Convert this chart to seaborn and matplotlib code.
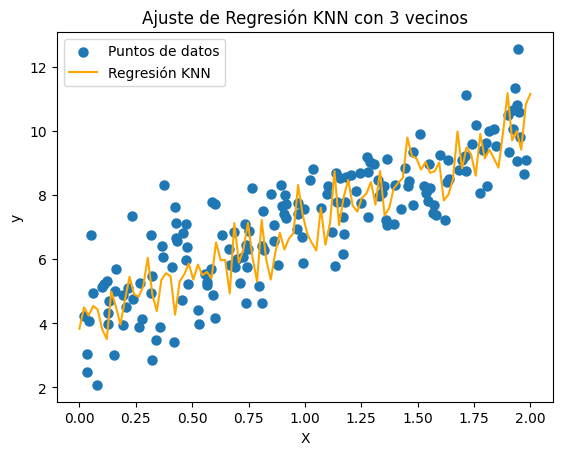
import numpy as np
import pandas as pd
import matplotlib
matplotlib.use("Agg")
import matplotlib.pyplot as plt
import seaborn as sns

# Scatter data
x_points = [
    0.374, 0.426, 0.232, 0.050, 0.430, 0.473, 0.461, 0.316, 0.430, 0.433,
    0.365, 0.478, 0.370, 0.474, 0.409, 0.161, 0.321, 0.101, 0.122, 0.111,
    0.270, 0.483, 0.059, 0.158, 0.130, 0.216, 0.191, 0.239, 0.208, 0.316,
    0.454, 0.126, 0.022, 0.044, 0.126, 0.192, 0.276, 0.263, 0.356, 0.341,
    0.418, 0.032, 0.152, 0.321, 0.032, 0.078,
    0.764, 0.893, 0.848, 0.911, 0.587, 0.602, 0.897, 0.916, 0.813, 0.906,
    0.916, 0.971, 0.996, 0.971, 0.733, 0.862, 0.631, 0.684, 0.751, 0.964,
    0.986, 0.862, 0.810, 0.820, 0.739, 0.746, 0.665, 0.724, 0.698, 0.668,
    0.690, 0.742, 0.881, 0.990, 0.584, 0.559, 0.565, 0.566, 0.711, 0.795,
    0.591, 0.738, 0.808, 0.525, 0.529, 0.600,
    1.512, 1.478, 1.364, 1.277, 1.289, 1.305, 1.035, 1.021, 1.138, 1.157,
    1.183, 1.205, 1.245, 1.280, 1.323, 1.446, 1.460, 1.456, 1.400, 1.350,
    1.330, 1.342, 1.227, 1.101, 1.097, 1.143, 1.178, 1.249, 1.168, 1.279,
    1.478, 1.425, 1.360, 1.364, 1.394, 1.070, 1.119, 1.172, 1.171, 1.132,
    1.530, 1.557, 1.537, 1.548, 1.571, 1.567, 1.581, 1.623,
    1.947, 1.933, 1.713, 1.939, 1.922, 1.899, 1.951, 1.757, 1.818, 1.837,
    1.922, 1.953, 1.740, 1.803, 1.789, 1.846, 1.904, 1.712, 1.697, 1.600,
    1.633, 1.552, 1.942, 1.981, 1.970, 1.685, 1.715, 1.641, 1.632, 1.806,
    1.778,
]
y_points = [
    8.32, 7.63, 7.35, 6.76, 7.13, 7.10, 6.82, 6.76, 6.66, 6.58,
    6.41, 6.38, 6.07, 5.98, 5.76, 5.70, 5.47, 5.14, 5.33, 5.24,
    5.26, 5.23, 4.95, 5.01, 4.71, 5.11, 4.87, 4.76, 4.51, 4.95,
    4.74, 4.33, 4.22, 4.07, 3.99, 3.96, 4.14, 3.89, 3.89, 3.49,
    3.42, 3.03, 3.02, 2.86, 2.48, 2.08,
    8.22, 8.32, 8.04, 8.00, 7.79, 7.71, 7.65, 7.71, 7.50, 7.42,
    7.27, 7.75, 7.57, 7.42, 7.08, 7.05, 6.76, 6.86, 6.89, 6.94,
    6.69, 6.56, 6.40, 6.28, 6.45, 6.30, 6.32, 6.07, 6.01, 5.81,
    5.74, 5.76, 5.82, 5.88, 5.70, 5.54, 5.28, 5.18, 5.26, 5.17,
    4.87, 4.64, 4.62, 4.40, 3.99, 4.15,
    9.91, 9.33, 9.13, 9.17, 9.04, 8.95, 8.81, 8.48, 8.69, 8.52,
    8.56, 8.63, 8.67, 8.73, 8.46, 8.84, 8.43, 8.27, 8.32, 8.27,
    7.96, 8.07, 8.12, 8.28, 8.03, 7.79, 7.79, 7.75, 7.32, 7.31,
    7.70, 7.55, 7.23, 7.05, 7.10, 7.60, 6.85, 6.77, 6.16, 5.80,
    8.29, 8.22, 8.07, 7.80, 7.70, 7.44, 7.39, 7.23,
    12.55, 11.34, 11.10, 10.79, 10.66, 10.50, 10.58, 10.18, 9.98, 10.04,
    10.04, 9.80, 9.59, 9.62, 9.41, 9.53, 9.34, 9.21, 9.10, 9.23,
    9.10, 8.97, 9.07, 9.09, 8.66, 8.79, 8.74, 8.51, 8.40, 8.29,
    8.07,
]

# KNN regression curve (100 evenly spaced x in [0, 2])
x_grid = np.linspace(0.0, 2.0, 100)
y_knn = [
    3.83, 4.50, 4.24, 4.54, 4.43, 3.81, 3.51, 4.99, 4.52, 3.96,
    4.74, 5.45, 4.90, 4.83, 5.15, 6.04, 4.90, 4.38, 5.36, 5.56,
    5.47, 4.27, 5.30, 5.52, 5.86, 5.36, 5.83, 5.50, 5.60, 5.40,
    6.52, 5.97, 5.97, 4.93, 7.12, 5.89, 6.30, 7.13, 6.05, 5.30,
    7.22, 5.99, 5.36, 6.20, 6.82, 6.30, 6.64, 6.81, 8.31, 7.39,
    6.80, 6.51, 6.27, 7.60, 6.45, 7.11, 8.74, 7.06, 7.92, 8.47,
    7.67, 7.48, 7.91, 8.04, 8.40, 7.70, 8.74, 7.36, 7.59, 8.20,
    8.38, 8.53, 9.79, 9.21, 9.14, 8.79, 9.03, 8.69, 8.74, 9.01,
    7.83, 8.01, 8.48, 9.98, 8.83, 9.48, 9.26, 8.60, 9.90, 9.14,
    9.41, 9.14, 8.85, 9.94, 11.17, 9.70, 9.99, 9.41, 10.82, 11.15,
]

title = "Ajuste de Regresión KNN con 3 vecinos"
scatter_label = "Puntos de datos"
line_label = "Regresión KNN"

df_pts = pd.DataFrame({"X": x_points, "y": y_points})
df_line = pd.DataFrame({"X": x_grid, "y": y_knn})

fig, ax = plt.subplots(figsize=(6.4, 4.8), dpi=100)
sns.scatterplot(data=df_pts, x="X", y="y", ax=ax, color="#1f77b4",
                s=36, edgecolor="#1f77b4", linewidth=1.5, label=scatter_label)
sns.lineplot(data=df_line, x="X", y="y", ax=ax, color="orange",
             linewidth=1.5, label=line_label)

ax.set_title(title)
ax.set_xlabel("X")
ax.set_ylabel("y")
ax.legend(loc="upper left")

fig.savefig("out.png", dpi=100, bbox_inches="tight")
